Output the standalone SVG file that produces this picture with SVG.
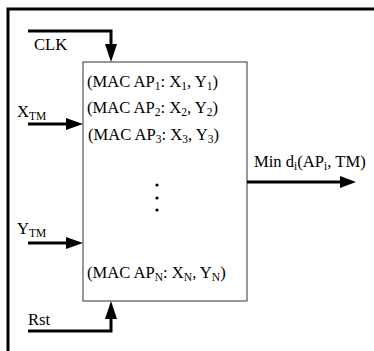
<svg xmlns="http://www.w3.org/2000/svg" width="374" height="351" viewBox="0 0 374 351">
<style>
text{font-family:"Liberation Serif","Times New Roman",serif;font-size:16.6px;fill:#000}
.sub{font-size:11.5px}
.w{stroke:#000;stroke-width:3;fill:none}
.ah{fill:#000}
</style>
<rect width="374" height="351" fill="#fff"/>
<g id="frame"><path d="M8 351V9H374" fill="none" stroke="#000" stroke-width="3"/></g>
<g id="box">
<rect x="83" y="62" width="164" height="239" fill="#fff" stroke="#555" stroke-width="1.2"/>
<text x="87" y="87">(MAC AP<tspan class="sub" dy="3">1</tspan><tspan dy="-3">: X</tspan><tspan class="sub" dy="3">1</tspan><tspan dy="-3">, Y</tspan><tspan class="sub" dy="3">1</tspan><tspan dy="-3">)</tspan></text>
<text x="87" y="113">(MAC AP<tspan class="sub" dy="3">2</tspan><tspan dy="-3">: X</tspan><tspan class="sub" dy="3">2</tspan><tspan dy="-3">, Y</tspan><tspan class="sub" dy="3">2</tspan><tspan dy="-3">)</tspan></text>
<text x="88" y="140">(MAC AP<tspan class="sub" dy="3">3</tspan><tspan dy="-3">: X</tspan><tspan class="sub" dy="3">3</tspan><tspan dy="-3">, Y</tspan><tspan class="sub" dy="3">3</tspan><tspan dy="-3">)</tspan></text>
<circle cx="157" cy="185" r="1.6"/><circle cx="157" cy="198" r="1.6"/><circle cx="157" cy="210" r="1.6"/>
<text x="87" y="278">(MAC AP<tspan class="sub" dy="3">N</tspan><tspan dy="-3">: X</tspan><tspan class="sub" dy="3">N</tspan><tspan dy="-3">, Y</tspan><tspan class="sub" dy="3">N</tspan><tspan dy="-3">)</tspan></text>
</g>
<g id="connectors">
<path class="w" d="M28 31H111V46"/><path class="ah" d="M105 44L117 44L111 62Z"/>
<path class="w" d="M28 124H68"/><path class="ah" d="M66 118L66 130L83 124Z"/>
<path class="w" d="M28 243H68"/><path class="ah" d="M66 237L66 249L83 243Z"/>
<path class="w" d="M28 331H111V318"/><path class="ah" d="M105 319L117 319L111 301Z"/>
<path class="w" d="M247 182H342"/><path class="ah" d="M340 176L340 188L356 182Z"/>
</g>
<g id="labels">
<text x="34" y="50">CLK</text>
<text x="17" y="117">X<tspan class="sub" dy="3">TM</tspan></text>
<text x="17" y="234">Y<tspan class="sub" dy="3">TM</tspan></text>
<text x="28" y="325">Rst</text>
<text x="254" y="167">Min d<tspan class="sub" dy="3">i</tspan><tspan dy="-3">(AP</tspan><tspan class="sub" dy="3">i</tspan><tspan dy="-3">, TM)</tspan></text>
</g>
</svg>
